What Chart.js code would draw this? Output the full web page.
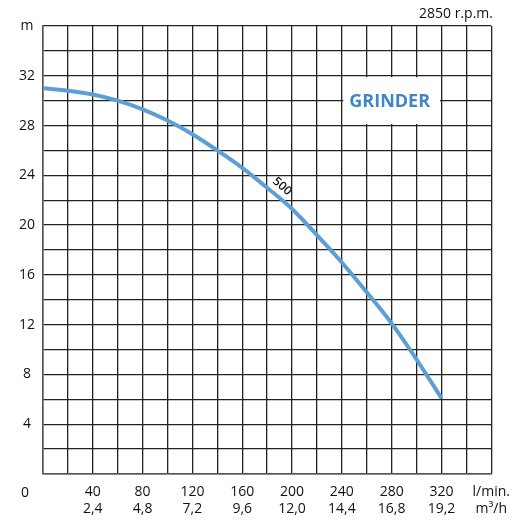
<!DOCTYPE html>
<html>
<head>
<meta charset="utf-8">
<script src="https://cdn.jsdelivr.net/npm/chart.js@4.4.0/dist/chart.umd.min.js"></script>
<style>
  html, body { margin: 0; padding: 0; background: #fff; }
  #wrap { position: relative; width: 520px; height: 527px; }
</style>
</head>
<body>
<div id="wrap"><canvas id="curva"></canvas></div>
<script>
// Datos de la curva (l/min -> m)
const caudal = [0, 20, 40, 60, 80, 100, 120, 140, 160, 180, 200, 220, 240, 260, 280, 300, 320];
const altura = [31.0, 30.8, 30.5, 30.0, 29.3, 28.4, 27.3, 26.0, 24.6, 23.0, 21.3, 19.2, 17.0, 14.6, 12.1, 9.2, 6.1];

const ticksX = [40, 80, 120, 160, 200, 240, 280, 320];
const ticksXm3 = ['2,4', '4,8', '7,2', '9,6', '12,0', '14,4', '16,8', '19,2'];
const ticksY = [4, 8, 12, 16, 20, 24, 28, 32];

const fuente = '"Open Sans", "Noto Sans", sans-serif';

// Textos extra: GRINDER, 500, rpm y el 0
const etiquetas = {
  id: 'etiquetas',
  afterDraw(chart) {
    const c = chart.ctx;
    const x = chart.scales.x, y = chart.scales.y;
    c.save();
    // caja blanca de GRINDER (entre las lineas 240-320 y 28-32)
    const x0 = x.getPixelForValue(240), x1 = x.getPixelForValue(320);
    const y0 = y.getPixelForValue(32), y1 = y.getPixelForValue(28);
    c.fillStyle = '#fff';
    c.fillRect(x0 + 1.5, y0 + 1.5, x1 - x0 - 3, y1 - y0 - 3);
    c.fillStyle = '#3f86c6';
    c.font = 'bold 18px ' + fuente;
    c.textAlign = 'center';
    c.textBaseline = 'middle';
    c.fillText('GRINDER', (x0 + x1) / 2 - 2, (y0 + y1) / 2 + 1);

    // 500 sobre la curva
    c.fillStyle = '#111';
    c.font = '600 12px ' + fuente;
    c.translate(x.getPixelForValue(192), y.getPixelForValue(23.1));
    c.rotate(41 * Math.PI / 180);
    c.fillText('500', 0, 0);
    c.restore();

    c.save();
    c.fillStyle = '#111';
    c.font = '14px ' + fuente;
    c.textAlign = 'right';
    c.textBaseline = 'middle';
    c.fillText('2850 r.p.m.', 493, 14);
    c.textAlign = 'center';
    c.fillText('0', 25, 493);
    c.restore();
  }
};

new Chart(document.getElementById('curva'), {
  type: 'line',
  data: {
    labels: caudal,
    datasets: [{
      data: caudal.map((q, i) => ({ x: q, y: altura[i] })),
      borderColor: '#5b9fd6',
      borderWidth: 4,
      cubicInterpolationMode: 'monotone',
      pointRadius: 0,
      fill: false
    }]
  },
  options: {
    responsive: true, maintainAspectRatio: false,
    animation: false,
    layout: { padding: { top: 26, right: 27, left: 0, bottom: 0 } },
    plugins: { legend: { display: false }, tooltip: { enabled: false } },
    scales: {
      x: {
        type: 'linear', min: 0, max: 360,
        border: { color: '#555', width: 1.5 },
        grid: { color: '#222', lineWidth: 1.3, drawTicks: false },
        ticks: {
          stepSize: 20, autoSkip: false, maxRotation: 0, padding: 10,
          color: '#111', font: { family: fuente, size: 14 },
          callback: v => {
            const i = ticksX.indexOf(v);
            if (i >= 0) return [String(v), ticksXm3[i]];
            if (v === 360) return ['l/min.', 'm³/h'];
            return '';
          }
        },
        afterFit: s => { s.height = 53; }
      },
      y: {
        min: 0, max: 36,
        border: { color: '#555', width: 1.5 },
        grid: { color: '#222', lineWidth: 1.3, drawTicks: false },
        ticks: {
          stepSize: 2, autoSkip: false, padding: 8, crossAlign: 'center',
          color: '#111', font: { family: fuente, size: 14 },
          callback: v => ticksY.includes(v) ? String(v) : (v === 36 ? 'm' : '')
        },
        afterFit: s => { s.width = 43; }
      }
    }
  },
  plugins: [etiquetas]
});
</script>
</body>
</html>
